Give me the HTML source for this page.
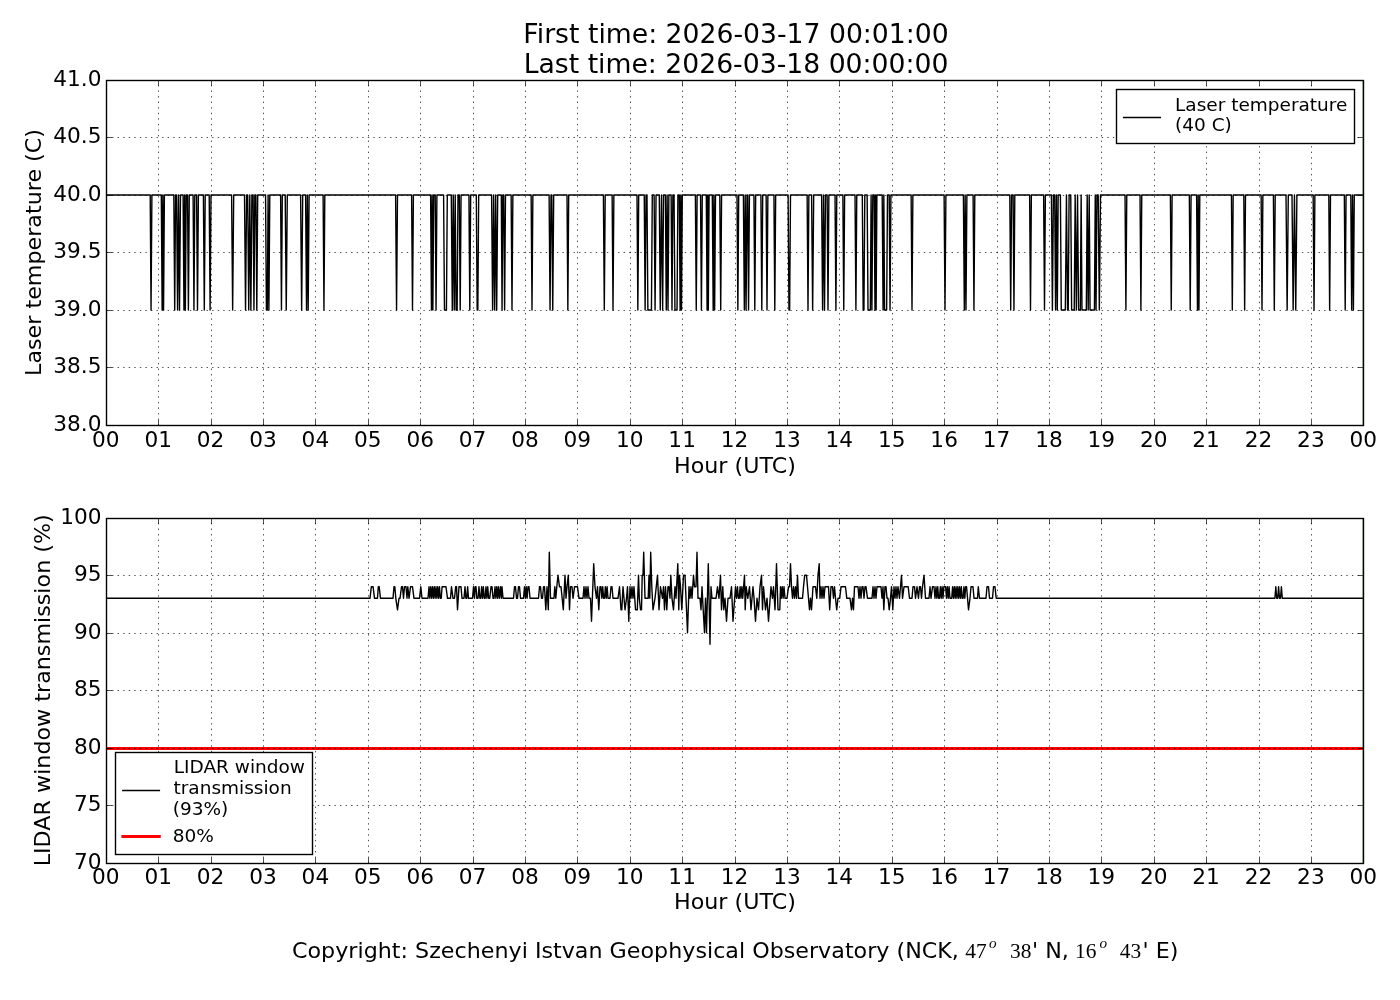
<!DOCTYPE html>
<html lang="en"><head><meta charset="utf-8"><title>LIDAR housekeeping</title><style>html,body{margin:0;padding:0;background:#fff;width:1400px;height:1000px;overflow:hidden}</style></head><body>
<svg width="1400" height="1000" viewBox="0 0 1400 1000" style="display:block" font-family="'DejaVu Sans','Liberation Sans',sans-serif" fill="#000">
<rect width="1400" height="1000" fill="#fff"/>
<g>
<polyline points="106.77,195.00 150.20,195.00 151.05,310.00 151.90,195.00 161.30,195.00 162.15,310.00 162.85,195.00 163.55,310.00 164.40,195.00 173.83,195.00 174.70,310.00 175.57,195.00 176.60,195.00 177.58,310.00 178.55,195.00 179.52,310.00 180.50,195.00 183.10,195.00 183.95,310.00 184.65,195.00 185.35,310.00 186.20,195.00 187.53,195.00 188.40,310.00 189.27,195.00 193.10,195.00 193.95,310.00 194.80,195.00 196.60,195.00 197.50,310.00 198.40,195.00 203.40,195.00 204.30,310.00 205.20,195.00 209.20,195.00 210.10,310.00 211.00,195.00 231.60,195.00 232.65,310.00 233.70,195.00 244.50,195.00 245.55,310.00 246.60,195.00 247.70,195.00 248.73,310.00 249.80,195.00 250.87,310.00 251.90,195.00 253.10,195.00 253.95,310.00 254.80,195.00 255.90,195.00 256.80,310.00 257.70,195.00 265.55,195.00 266.42,310.00 267.33,310.00 268.10,195.00 268.90,310.00 269.80,195.00 280.60,195.00 281.45,310.00 282.30,195.00 285.20,195.00 286.25,310.00 287.30,195.00 300.60,195.00 301.65,310.00 302.70,195.00 305.60,195.00 306.52,310.00 307.35,195.00 308.18,310.00 309.10,195.00 323.10,195.00 323.95,310.00 324.80,195.00 395.60,195.00 396.55,310.00 397.50,195.00 411.60,195.00 412.50,310.00 413.40,195.00 430.60,195.00 431.45,310.00 432.15,195.00 432.85,310.00 433.70,195.00 435.20,195.00 436.05,310.00 436.90,195.00 443.60,195.00 444.47,310.00 446.43,310.00 447.30,195.00 451.30,195.00 452.29,310.00 453.26,195.00 454.24,310.00 455.21,195.00 456.07,310.00 457.13,310.00 458.00,195.00 459.33,195.00 460.20,310.00 461.07,195.00 468.93,195.00 469.80,310.00 470.67,195.00 476.30,195.00 477.17,310.00 477.83,310.00 478.70,195.00 491.60,195.00 492.61,310.00 493.63,195.00 494.65,310.00 495.67,195.00 496.69,310.00 497.70,195.00 501.30,195.00 502.05,310.00 502.80,195.00 503.70,195.00 504.60,310.00 505.50,195.00 511.13,195.00 512.00,310.00 512.87,195.00 531.13,195.00 532.00,310.00 532.87,195.00 549.10,195.00 550.05,310.00 551.00,195.00 551.80,195.00 552.75,310.00 553.70,195.00 567.00,195.00 567.85,310.00 568.70,195.00 603.40,195.00 604.30,310.00 605.20,195.00 612.13,195.00 613.00,310.00 613.87,195.00 637.00,195.00 637.85,310.00 638.70,195.00 644.25,195.00 645.12,310.00 646.00,195.00 647.00,195.00 647.87,310.00 651.43,310.00 652.30,195.00 654.10,195.00 655.08,310.00 656.05,195.00 659.30,195.00 660.25,310.00 661.49,195.00 662.65,310.00 663.52,195.00 665.40,195.00 666.26,310.00 667.13,195.00 668.00,310.00 668.87,195.00 671.13,195.00 672.00,310.00 672.87,195.00 674.05,195.00 674.92,310.00 677.03,310.00 677.90,195.00 679.30,195.00 680.13,310.00 680.80,195.00 681.47,310.00 682.30,195.00 695.38,195.00 696.25,310.00 697.12,195.00 700.53,195.00 701.40,310.00 702.27,195.00 706.30,195.00 707.10,310.00 707.70,195.00 708.30,310.00 709.10,195.00 712.30,195.00 713.17,310.00 713.90,195.00 714.63,310.00 715.50,195.00 719.80,195.00 720.70,310.00 721.60,195.00 737.00,195.00 737.85,310.00 738.70,195.00 743.40,195.00 744.33,310.00 745.20,195.00 746.07,310.00 747.00,195.00 747.68,195.00 748.55,310.00 749.42,195.00 753.93,195.00 754.80,310.00 755.67,195.00 760.90,195.00 761.80,310.00 762.70,195.00 766.13,195.00 767.00,310.00 767.87,195.00 773.93,195.00 774.80,310.00 775.67,195.00 788.10,195.00 788.97,310.00 789.63,310.00 790.50,195.00 807.13,195.00 808.00,310.00 808.87,195.00 811.60,195.00 812.65,310.00 813.70,195.00 821.60,195.00 822.58,310.00 823.55,195.00 824.52,310.00 825.50,195.00 827.13,195.00 828.00,310.00 828.87,195.00 835.03,195.00 835.90,310.00 836.77,195.00 842.88,195.00 843.75,310.00 844.62,195.00 855.03,195.00 855.90,310.00 856.77,195.00 862.30,195.00 863.17,310.00 863.93,310.00 864.80,195.00 867.15,195.00 868.02,310.00 870.33,310.00 871.10,195.00 871.90,310.00 872.80,195.00 874.20,195.00 874.98,310.00 875.55,195.00 876.12,310.00 876.90,195.00 882.20,195.00 883.08,310.00 883.83,195.00 884.57,310.00 886.63,310.00 887.50,195.00 889.20,195.00 890.05,310.00 890.90,195.00 911.13,195.00 912.00,310.00 912.87,195.00 944.10,195.00 945.00,310.00 945.90,195.00 963.40,195.00 964.32,310.00 965.15,195.00 965.98,310.00 966.90,195.00 973.10,195.00 973.95,310.00 974.80,195.00 1009.80,195.00 1010.70,310.00 1011.60,195.00 1013.10,195.00 1013.95,310.00 1014.80,195.00 1029.63,195.00 1030.50,310.00 1031.37,195.00 1043.63,195.00 1044.50,310.00 1045.37,195.00 1051.40,195.00 1052.40,310.00 1053.40,195.00 1054.70,195.00 1055.57,310.00 1056.43,195.00 1057.31,310.00 1058.17,195.00 1060.40,195.00 1061.27,310.00 1065.33,310.00 1066.45,195.00 1067.57,310.00 1068.23,310.00 1069.10,195.00 1070.75,195.00 1071.62,310.00 1074.23,310.00 1075.17,195.00 1076.33,310.00 1077.55,195.00 1078.57,310.00 1080.33,310.00 1081.15,195.00 1081.97,310.00 1086.33,310.00 1087.20,195.00 1088.20,310.00 1089.20,195.00 1090.07,310.00 1094.43,310.00 1095.25,195.00 1096.05,310.00 1096.90,195.00 1098.20,195.00 1099.35,310.00 1100.50,195.00 1125.03,195.00 1125.90,310.00 1126.77,195.00 1140.03,195.00 1140.90,310.00 1141.77,195.00 1170.38,195.00 1171.25,310.00 1172.12,195.00 1189.33,195.00 1190.20,310.00 1191.07,195.00 1196.60,195.00 1197.47,310.00 1198.20,195.00 1198.93,310.00 1199.80,195.00 1231.43,195.00 1232.30,310.00 1233.17,195.00 1243.80,195.00 1244.65,310.00 1245.50,195.00 1261.13,195.00 1262.00,310.00 1262.87,195.00 1273.40,195.00 1274.30,310.00 1275.20,195.00 1286.00,195.00 1287.15,310.00 1288.30,195.00 1292.00,195.00 1293.15,310.00 1294.45,195.00 1295.75,310.00 1296.90,195.00 1313.15,195.00 1314.02,310.00 1314.88,195.00 1328.80,195.00 1329.65,310.00 1330.50,195.00 1344.33,195.00 1345.20,310.00 1346.07,195.00 1350.80,195.00 1351.66,310.00 1352.53,195.00 1353.40,310.00 1354.27,195.00 1363.40,195.00" fill="none" stroke="#000" stroke-width="1.39" stroke-linejoin="round"/>
<path d="M158.5 425.5V80.5M211.5 425.5V80.5M263.5 425.5V80.5M315.5 425.5V80.5M368.5 425.5V80.5M420.5 425.5V80.5M473.5 425.5V80.5M525.5 425.5V80.5M577.5 425.5V80.5M630.5 425.5V80.5M682.5 425.5V80.5M735.5 425.5V80.5M787.5 425.5V80.5M839.5 425.5V80.5M892.5 425.5V80.5M944.5 425.5V80.5M997.5 425.5V80.5M1049.5 425.5V80.5M1101.5 425.5V80.5M1154.5 425.5V80.5M1206.5 425.5V80.5M1259.5 425.5V80.5M1311.5 425.5V80.5" stroke="#000" stroke-width="0.69" stroke-dasharray="1.39 4.17" fill="none"/>
<path d="M106.5 367.5H1363.5M106.5 310.5H1363.5M106.5 252.5H1363.5M106.5 195.5H1363.5M106.5 137.5H1363.5" stroke="#000" stroke-width="0.69" stroke-dasharray="1.39 4.17" fill="none"/>
<path d="M158.5 425.5v-5.56M158.5 80.5v5.56M211.5 425.5v-5.56M211.5 80.5v5.56M263.5 425.5v-5.56M263.5 80.5v5.56M315.5 425.5v-5.56M315.5 80.5v5.56M368.5 425.5v-5.56M368.5 80.5v5.56M420.5 425.5v-5.56M420.5 80.5v5.56M473.5 425.5v-5.56M473.5 80.5v5.56M525.5 425.5v-5.56M525.5 80.5v5.56M577.5 425.5v-5.56M577.5 80.5v5.56M630.5 425.5v-5.56M630.5 80.5v5.56M682.5 425.5v-5.56M682.5 80.5v5.56M735.5 425.5v-5.56M735.5 80.5v5.56M787.5 425.5v-5.56M787.5 80.5v5.56M839.5 425.5v-5.56M839.5 80.5v5.56M892.5 425.5v-5.56M892.5 80.5v5.56M944.5 425.5v-5.56M944.5 80.5v5.56M997.5 425.5v-5.56M997.5 80.5v5.56M1049.5 425.5v-5.56M1049.5 80.5v5.56M1101.5 425.5v-5.56M1101.5 80.5v5.56M1154.5 425.5v-5.56M1154.5 80.5v5.56M1206.5 425.5v-5.56M1206.5 80.5v5.56M1259.5 425.5v-5.56M1259.5 80.5v5.56M1311.5 425.5v-5.56M1311.5 80.5v5.56M106.5 367.5h5.56M1363.5 367.5h-5.56M106.5 310.5h5.56M1363.5 310.5h-5.56M106.5 252.5h5.56M1363.5 252.5h-5.56M106.5 195.5h5.56M1363.5 195.5h-5.56M106.5 137.5h5.56M1363.5 137.5h-5.56" stroke="#000" stroke-width="0.69" fill="none"/>
<path d="M1363.05 80.5V425.5" stroke="#008000" stroke-width="0.7"/>
<rect x="106.5" y="80.5" width="1257.0" height="345.0" fill="none" stroke="#000" stroke-width="1.39"/>
<rect x="1116.5" y="89.5" width="238" height="54" fill="#fff" stroke="#000" stroke-width="1.39"/><path d="M1123.7 117.5H1160.3" stroke="#000" stroke-width="1.39" stroke-linecap="square"/><text transform="translate(1175.00 111.00) scale(1 0.935)" font-size="18.52" text-anchor="start">Laser temperature</text><text transform="translate(1175.00 131.30) scale(1 0.935)" font-size="18.52" text-anchor="start">(40 C)</text>
<text transform="translate(105.80 446.50) scale(0.975 0.935)" font-size="22.22" text-anchor="middle">00</text>
<text transform="translate(158.20 446.50) scale(0.975 0.935)" font-size="22.22" text-anchor="middle">01</text>
<text transform="translate(210.59 446.50) scale(0.975 0.935)" font-size="22.22" text-anchor="middle">02</text>
<text transform="translate(262.99 446.50) scale(0.975 0.935)" font-size="22.22" text-anchor="middle">03</text>
<text transform="translate(315.38 446.50) scale(0.975 0.935)" font-size="22.22" text-anchor="middle">04</text>
<text transform="translate(367.78 446.50) scale(0.975 0.935)" font-size="22.22" text-anchor="middle">05</text>
<text transform="translate(420.17 446.50) scale(0.975 0.935)" font-size="22.22" text-anchor="middle">06</text>
<text transform="translate(472.57 446.50) scale(0.975 0.935)" font-size="22.22" text-anchor="middle">07</text>
<text transform="translate(524.97 446.50) scale(0.975 0.935)" font-size="22.22" text-anchor="middle">08</text>
<text transform="translate(577.36 446.50) scale(0.975 0.935)" font-size="22.22" text-anchor="middle">09</text>
<text transform="translate(629.76 446.50) scale(0.975 0.935)" font-size="22.22" text-anchor="middle">10</text>
<text transform="translate(682.15 446.50) scale(0.975 0.935)" font-size="22.22" text-anchor="middle">11</text>
<text transform="translate(734.55 446.50) scale(0.975 0.935)" font-size="22.22" text-anchor="middle">12</text>
<text transform="translate(786.95 446.50) scale(0.975 0.935)" font-size="22.22" text-anchor="middle">13</text>
<text transform="translate(839.34 446.50) scale(0.975 0.935)" font-size="22.22" text-anchor="middle">14</text>
<text transform="translate(891.74 446.50) scale(0.975 0.935)" font-size="22.22" text-anchor="middle">15</text>
<text transform="translate(944.13 446.50) scale(0.975 0.935)" font-size="22.22" text-anchor="middle">16</text>
<text transform="translate(996.53 446.50) scale(0.975 0.935)" font-size="22.22" text-anchor="middle">17</text>
<text transform="translate(1048.93 446.50) scale(0.975 0.935)" font-size="22.22" text-anchor="middle">18</text>
<text transform="translate(1101.32 446.50) scale(0.975 0.935)" font-size="22.22" text-anchor="middle">19</text>
<text transform="translate(1153.72 446.50) scale(0.975 0.935)" font-size="22.22" text-anchor="middle">20</text>
<text transform="translate(1206.11 446.50) scale(0.975 0.935)" font-size="22.22" text-anchor="middle">21</text>
<text transform="translate(1258.51 446.50) scale(0.975 0.935)" font-size="22.22" text-anchor="middle">22</text>
<text transform="translate(1310.90 446.50) scale(0.975 0.935)" font-size="22.22" text-anchor="middle">23</text>
<text transform="translate(1363.30 446.50) scale(0.975 0.935)" font-size="22.22" text-anchor="middle">00</text>
<text transform="translate(101.50 430.80) scale(0.975 0.935)" font-size="22.22" text-anchor="end">38.0</text>
<text transform="translate(101.50 373.30) scale(0.975 0.935)" font-size="22.22" text-anchor="end">38.5</text>
<text transform="translate(101.50 315.80) scale(0.975 0.935)" font-size="22.22" text-anchor="end">39.0</text>
<text transform="translate(101.50 258.30) scale(0.975 0.935)" font-size="22.22" text-anchor="end">39.5</text>
<text transform="translate(101.50 200.80) scale(0.975 0.935)" font-size="22.22" text-anchor="end">40.0</text>
<text transform="translate(101.50 143.30) scale(0.975 0.935)" font-size="22.22" text-anchor="end">40.5</text>
<text transform="translate(101.50 85.80) scale(0.975 0.935)" font-size="22.22" text-anchor="end">41.0</text>
<text transform="translate(734.95 472.90) scale(1 0.935)" font-size="22.22" text-anchor="middle">Hour (UTC)</text>
<text transform="translate(41.20 252.50) rotate(-90) scale(1 0.935)" font-size="22.22" text-anchor="middle">Laser temperature (C)</text>
</g>
<g>
<polyline points="106.77,598.30 370.00,598.30 371.30,586.80 373.10,586.80 374.50,598.30 377.50,598.30 378.30,586.80 379.20,586.80 380.50,598.30 393.00,598.30 394.00,586.80 394.80,586.80 395.80,598.30 397.50,609.80 399.00,598.30 400.00,598.30 401.50,586.80 402.50,586.80 403.50,598.30 404.50,586.80 406.00,586.80 407.00,598.30 407.80,586.80 409.00,598.30 410.50,586.80 412.50,586.80 414.00,598.30 419.50,598.30 420.80,586.80 422.00,598.30 428.00,598.30 429.00,586.80 429.87,598.30 430.75,586.80 431.62,598.30 432.49,586.80 433.37,598.30 434.24,586.80 435.11,598.30 435.99,586.80 436.86,598.30 437.73,586.80 438.61,598.30 439.48,586.80 440.35,598.30 441.23,598.30 442.10,586.80 443.00,586.80 446.00,586.80 447.50,598.30 450.50,598.30 451.50,586.80 453.00,598.30 454.50,598.30 455.70,586.80 456.50,586.80 457.50,609.80 459.00,586.80 461.00,586.80 462.00,598.30 464.00,598.30 465.00,586.80 465.87,598.30 466.75,598.30 467.62,586.80 468.49,598.30 469.00,598.30 472.50,598.30 473.50,586.80 474.50,598.30 475.20,586.80 476.00,586.80 476.80,598.30 478.00,598.30 479.00,586.80 479.87,598.30 480.75,598.30 481.62,586.80 482.49,598.30 483.37,586.80 484.24,598.30 485.11,598.30 485.99,586.80 486.86,598.30 487.73,586.80 488.61,598.30 489.70,598.30 491.00,586.80 492.00,586.80 493.00,598.30 494.00,598.30 495.00,586.80 495.87,598.30 496.75,586.80 497.62,598.30 498.49,586.80 499.37,598.30 500.50,586.80 501.30,598.30 502.00,586.80 503.00,598.30 513.50,598.30 514.50,586.80 515.50,586.80 516.50,598.30 517.50,598.30 518.50,586.80 519.50,586.80 520.50,598.30 523.50,598.30 524.50,586.80 525.40,598.30 526.20,586.80 527.10,598.30 528.00,586.80 529.00,586.80 530.00,598.30 538.50,598.30 539.50,586.80 540.50,586.80 541.50,598.30 542.50,598.30 543.50,586.80 544.50,586.80 545.80,609.80 547.00,586.80 548.30,609.80 549.30,552.30 550.50,598.30 554.00,598.30 554.80,586.80 555.80,598.30 556.80,586.80 558.00,575.30 559.50,586.80 561.00,586.80 563.30,609.80 565.00,575.30 566.00,598.30 567.00,586.80 568.30,575.30 569.50,609.80 570.50,586.80 572.00,586.80 573.00,598.30 574.50,586.80 576.00,586.80 577.50,586.80 579.00,598.30 583.00,598.30 584.00,586.80 585.00,598.30 586.00,586.80 587.00,598.30 588.00,586.80 589.00,598.30 590.50,598.30 591.50,621.30 593.70,563.80 595.00,586.80 596.50,598.30 597.50,586.80 598.80,609.80 600.00,586.80 601.00,586.80 601.87,598.30 602.75,586.80 603.62,598.30 604.49,598.30 605.37,586.80 606.24,598.30 607.11,586.80 607.99,598.30 608.86,598.30 610.00,598.30 611.00,586.80 612.00,586.80 613.00,598.30 618.00,598.30 619.50,586.80 621.00,609.80 621.80,609.80 623.00,586.80 625.00,609.80 626.50,598.30 627.50,586.80 628.80,621.30 630.00,586.80 631.00,598.30 632.00,586.80 633.00,598.30 634.00,586.80 635.50,609.80 637.30,609.80 638.50,575.30 639.30,598.30 640.50,609.80 641.50,609.80 642.20,575.30 643.00,575.30 643.70,552.30 645.00,598.30 648.20,598.30 649.00,575.30 649.80,598.30 650.70,552.30 651.80,586.80 653.00,609.80 655.00,598.30 657.50,575.30 659.00,609.80 660.50,586.80 662.50,598.30 663.50,586.80 664.50,609.80 665.50,586.80 666.80,609.80 668.00,586.80 669.00,586.80 670.00,598.30 670.80,575.30 672.00,598.30 673.50,609.80 675.00,586.80 676.00,598.30 677.80,563.80 678.80,609.80 679.50,575.30 680.50,586.80 681.80,609.80 683.50,575.30 685.00,575.30 687.50,632.80 689.00,586.80 690.00,598.30 691.00,586.80 692.00,598.30 693.50,575.30 694.50,586.80 696.00,586.80 697.00,552.30 698.00,598.30 700.00,598.30 701.00,609.80 702.00,586.80 703.20,609.80 704.50,632.80 705.50,598.30 706.50,632.80 708.30,563.80 710.00,644.30 711.00,586.80 712.00,598.30 716.00,598.30 717.50,586.80 719.00,598.30 720.50,575.30 721.50,609.80 722.80,586.80 723.80,609.80 725.00,598.30 726.50,621.30 728.00,598.30 730.00,598.30 731.50,586.80 733.00,621.30 735.50,586.80 736.50,598.30 737.50,586.80 738.37,598.30 739.25,598.30 740.12,586.80 740.99,598.30 741.87,586.80 742.74,598.30 743.61,586.80 744.50,575.30 745.20,609.80 746.20,586.80 747.80,598.30 749.50,586.80 751.00,609.80 753.00,586.80 754.00,598.30 755.50,621.30 757.00,598.30 758.50,609.80 760.00,586.80 761.50,575.30 762.50,609.80 763.50,586.80 765.50,609.80 767.00,598.30 768.50,621.30 771.00,586.80 772.50,598.30 773.50,586.80 775.00,609.80 776.50,563.80 778.00,609.80 779.80,609.80 780.50,586.80 781.30,598.30 782.20,586.80 783.10,598.30 784.00,586.80 785.00,598.30 787.00,598.30 788.50,586.80 789.50,586.80 790.50,563.80 791.50,586.80 792.50,598.30 793.50,586.80 794.50,598.30 795.50,586.80 796.50,598.30 797.50,575.30 798.50,598.30 802.50,598.30 803.50,586.80 804.70,575.30 806.50,575.30 807.50,586.80 808.50,598.30 809.50,609.80 810.50,598.30 811.50,609.80 813.00,586.80 815.50,586.80 816.80,598.30 818.00,575.30 819.20,563.80 820.00,598.30 821.00,586.80 822.00,598.30 823.00,586.80 824.00,598.30 825.00,586.80 828.50,586.80 829.70,609.80 831.00,586.80 832.50,586.80 833.50,598.30 834.50,586.80 835.50,598.30 836.70,609.80 838.00,598.30 839.70,598.30 841.00,586.80 845.50,586.80 846.80,598.30 850.00,598.30 851.50,609.80 852.50,598.30 853.50,609.80 854.50,586.80 858.00,586.80 859.00,598.30 860.00,586.80 861.00,598.30 862.00,586.80 863.00,586.80 864.00,598.30 865.00,586.80 866.00,586.80 867.50,598.30 872.00,598.30 873.00,586.80 874.00,598.30 875.00,586.80 876.00,598.30 877.00,586.80 881.00,586.80 882.00,598.30 883.00,586.80 883.80,609.80 885.00,586.80 886.00,586.80 887.00,598.30 888.00,598.30 889.20,609.80 890.50,598.30 891.50,586.80 892.80,609.80 894.00,586.80 895.00,598.30 896.00,586.80 897.00,598.30 898.00,586.80 899.50,598.30 900.50,586.80 901.50,575.30 902.50,598.30 904.00,586.80 908.20,586.80 909.50,598.30 912.00,598.30 913.00,586.80 914.50,586.80 915.50,598.30 917.00,586.80 918.50,598.30 919.50,586.80 920.50,586.80 921.50,598.30 922.50,586.80 924.00,575.30 925.50,598.30 929.00,598.30 930.00,586.80 931.00,598.30 932.50,586.80 934.00,586.80 935.00,598.30 936.00,586.80 936.87,598.30 937.75,586.80 938.62,598.30 939.49,598.30 940.37,586.80 941.24,598.30 942.11,586.80 942.99,598.30 943.86,586.80 944.73,586.80 945.61,586.80 946.48,598.30 947.35,586.80 948.23,598.30 949.10,586.80 949.97,598.30 950.85,598.30 951.72,598.30 952.59,586.80 953.47,598.30 954.34,586.80 955.21,598.30 956.09,586.80 956.96,598.30 957.83,586.80 958.70,598.30 959.58,586.80 960.45,598.30 961.32,586.80 962.20,598.30 963.07,598.30 963.94,586.80 964.82,598.30 965.69,586.80 966.56,586.80 968.50,609.80 970.00,598.30 971.00,586.80 973.00,586.80 974.00,598.30 977.50,598.30 978.30,586.80 979.50,598.30 986.00,598.30 987.00,586.80 988.50,586.80 989.50,598.30 992.50,598.30 993.50,586.80 995.00,586.80 996.20,598.30 1274.90,598.30 1275.80,586.80 1276.70,598.30 1277.70,598.30 1278.60,586.80 1279.50,598.30 1280.50,598.30 1281.40,586.80 1282.30,598.30 1363.40,598.30" fill="none" stroke="#000" stroke-width="1.39" stroke-linejoin="round"/><path d="M106.5 748.5H1363.5" stroke="#f00" stroke-width="2.78"/>
<path d="M158.5 863.5V518.5M211.5 863.5V518.5M263.5 863.5V518.5M315.5 863.5V518.5M368.5 863.5V518.5M420.5 863.5V518.5M473.5 863.5V518.5M525.5 863.5V518.5M577.5 863.5V518.5M630.5 863.5V518.5M682.5 863.5V518.5M735.5 863.5V518.5M787.5 863.5V518.5M839.5 863.5V518.5M892.5 863.5V518.5M944.5 863.5V518.5M997.5 863.5V518.5M1049.5 863.5V518.5M1101.5 863.5V518.5M1154.5 863.5V518.5M1206.5 863.5V518.5M1259.5 863.5V518.5M1311.5 863.5V518.5" stroke="#000" stroke-width="0.69" stroke-dasharray="1.39 4.17" fill="none"/>
<path d="M106.5 805.5H1363.5M106.5 748.5H1363.5M106.5 690.5H1363.5M106.5 633.5H1363.5M106.5 575.5H1363.5" stroke="#000" stroke-width="0.69" stroke-dasharray="1.39 4.17" fill="none"/>
<path d="M158.5 863.5v-5.56M158.5 518.5v5.56M211.5 863.5v-5.56M211.5 518.5v5.56M263.5 863.5v-5.56M263.5 518.5v5.56M315.5 863.5v-5.56M315.5 518.5v5.56M368.5 863.5v-5.56M368.5 518.5v5.56M420.5 863.5v-5.56M420.5 518.5v5.56M473.5 863.5v-5.56M473.5 518.5v5.56M525.5 863.5v-5.56M525.5 518.5v5.56M577.5 863.5v-5.56M577.5 518.5v5.56M630.5 863.5v-5.56M630.5 518.5v5.56M682.5 863.5v-5.56M682.5 518.5v5.56M735.5 863.5v-5.56M735.5 518.5v5.56M787.5 863.5v-5.56M787.5 518.5v5.56M839.5 863.5v-5.56M839.5 518.5v5.56M892.5 863.5v-5.56M892.5 518.5v5.56M944.5 863.5v-5.56M944.5 518.5v5.56M997.5 863.5v-5.56M997.5 518.5v5.56M1049.5 863.5v-5.56M1049.5 518.5v5.56M1101.5 863.5v-5.56M1101.5 518.5v5.56M1154.5 863.5v-5.56M1154.5 518.5v5.56M1206.5 863.5v-5.56M1206.5 518.5v5.56M1259.5 863.5v-5.56M1259.5 518.5v5.56M1311.5 863.5v-5.56M1311.5 518.5v5.56M106.5 805.5h5.56M1363.5 805.5h-5.56M106.5 748.5h5.56M1363.5 748.5h-5.56M106.5 690.5h5.56M1363.5 690.5h-5.56M106.5 633.5h5.56M1363.5 633.5h-5.56M106.5 575.5h5.56M1363.5 575.5h-5.56" stroke="#000" stroke-width="0.69" fill="none"/>
<path d="M1363.05 518.5V863.5" stroke="#008000" stroke-width="0.7"/>
<rect x="106.5" y="518.5" width="1257.0" height="345.0" fill="none" stroke="#000" stroke-width="1.39"/>
<rect x="115.5" y="752.5" width="197" height="102" fill="#fff" stroke="#000" stroke-width="1.39"/><path d="M122.8 790.5H159.4" stroke="#000" stroke-width="1.39" stroke-linecap="square"/><text transform="translate(173.70 772.70) scale(1 0.935)" font-size="18.52" text-anchor="start">LIDAR window</text><text transform="translate(173.50 794.00) scale(1 0.935)" font-size="18.52" text-anchor="start">transmission</text><text transform="translate(172.70 814.50) scale(1 0.935)" font-size="18.52" text-anchor="start">(93%)</text><path d="M122.8 836.5H159.4" stroke="#f00" stroke-width="2.78" stroke-linecap="square"/><text transform="translate(172.70 842.00) scale(1 0.935)" font-size="18.52" text-anchor="start">80%</text>
<text transform="translate(105.80 884.00) scale(0.975 0.935)" font-size="22.22" text-anchor="middle">00</text>
<text transform="translate(158.20 884.00) scale(0.975 0.935)" font-size="22.22" text-anchor="middle">01</text>
<text transform="translate(210.59 884.00) scale(0.975 0.935)" font-size="22.22" text-anchor="middle">02</text>
<text transform="translate(262.99 884.00) scale(0.975 0.935)" font-size="22.22" text-anchor="middle">03</text>
<text transform="translate(315.38 884.00) scale(0.975 0.935)" font-size="22.22" text-anchor="middle">04</text>
<text transform="translate(367.78 884.00) scale(0.975 0.935)" font-size="22.22" text-anchor="middle">05</text>
<text transform="translate(420.17 884.00) scale(0.975 0.935)" font-size="22.22" text-anchor="middle">06</text>
<text transform="translate(472.57 884.00) scale(0.975 0.935)" font-size="22.22" text-anchor="middle">07</text>
<text transform="translate(524.97 884.00) scale(0.975 0.935)" font-size="22.22" text-anchor="middle">08</text>
<text transform="translate(577.36 884.00) scale(0.975 0.935)" font-size="22.22" text-anchor="middle">09</text>
<text transform="translate(629.76 884.00) scale(0.975 0.935)" font-size="22.22" text-anchor="middle">10</text>
<text transform="translate(682.15 884.00) scale(0.975 0.935)" font-size="22.22" text-anchor="middle">11</text>
<text transform="translate(734.55 884.00) scale(0.975 0.935)" font-size="22.22" text-anchor="middle">12</text>
<text transform="translate(786.95 884.00) scale(0.975 0.935)" font-size="22.22" text-anchor="middle">13</text>
<text transform="translate(839.34 884.00) scale(0.975 0.935)" font-size="22.22" text-anchor="middle">14</text>
<text transform="translate(891.74 884.00) scale(0.975 0.935)" font-size="22.22" text-anchor="middle">15</text>
<text transform="translate(944.13 884.00) scale(0.975 0.935)" font-size="22.22" text-anchor="middle">16</text>
<text transform="translate(996.53 884.00) scale(0.975 0.935)" font-size="22.22" text-anchor="middle">17</text>
<text transform="translate(1048.93 884.00) scale(0.975 0.935)" font-size="22.22" text-anchor="middle">18</text>
<text transform="translate(1101.32 884.00) scale(0.975 0.935)" font-size="22.22" text-anchor="middle">19</text>
<text transform="translate(1153.72 884.00) scale(0.975 0.935)" font-size="22.22" text-anchor="middle">20</text>
<text transform="translate(1206.11 884.00) scale(0.975 0.935)" font-size="22.22" text-anchor="middle">21</text>
<text transform="translate(1258.51 884.00) scale(0.975 0.935)" font-size="22.22" text-anchor="middle">22</text>
<text transform="translate(1310.90 884.00) scale(0.975 0.935)" font-size="22.22" text-anchor="middle">23</text>
<text transform="translate(1363.30 884.00) scale(0.975 0.935)" font-size="22.22" text-anchor="middle">00</text>
<text transform="translate(101.50 868.60) scale(0.975 0.935)" font-size="22.22" text-anchor="end">70</text>
<text transform="translate(101.50 811.10) scale(0.975 0.935)" font-size="22.22" text-anchor="end">75</text>
<text transform="translate(101.50 753.60) scale(0.975 0.935)" font-size="22.22" text-anchor="end">80</text>
<text transform="translate(101.50 696.10) scale(0.975 0.935)" font-size="22.22" text-anchor="end">85</text>
<text transform="translate(101.50 638.60) scale(0.975 0.935)" font-size="22.22" text-anchor="end">90</text>
<text transform="translate(101.50 581.10) scale(0.975 0.935)" font-size="22.22" text-anchor="end">95</text>
<text transform="translate(101.50 523.60) scale(0.975 0.935)" font-size="22.22" text-anchor="end">100</text>
<text transform="translate(734.95 908.60) scale(1 0.935)" font-size="22.22" text-anchor="middle">Hour (UTC)</text>
<text transform="translate(50.40 690.30) rotate(-90) scale(1 0.935)" font-size="22.22" text-anchor="middle">LIDAR window transmission (%)</text>
</g>
<text transform="translate(736.00 43.30) scale(1 0.965)" font-size="26.67" text-anchor="middle">First time: 2026-03-17 00:01:00</text>
<text transform="translate(736.00 72.80) scale(1 0.965)" font-size="26.67" text-anchor="middle">Last time: 2026-03-18 00:00:00</text>
<text transform="translate(292.00 957.50) scale(1 0.935)" font-size="22.22" text-anchor="start">Copyright: Szechenyi Istvan Geophysical Observatory (NCK,</text>
<text transform="translate(965.30 957.50) scale(1 1)" font-size="21.4" text-anchor="start" font-family="'Liberation Serif','DejaVu Serif',serif">47</text>
<text transform="translate(989.00 948.30) scale(1 1)" font-size="15.2" text-anchor="start" font-family="'Liberation Serif','DejaVu Serif',serif" font-style="italic">o</text>
<text transform="translate(1010.00 957.50) scale(1 1)" font-size="21.4" text-anchor="start" font-family="'Liberation Serif','DejaVu Serif',serif">38</text>
<text transform="translate(1032.00 957.50) scale(1 0.935)" font-size="22.22" text-anchor="start">' N,</text>
<text transform="translate(1075.00 957.50) scale(1 1)" font-size="21.4" text-anchor="start" font-family="'Liberation Serif','DejaVu Serif',serif">16</text>
<text transform="translate(1099.50 948.30) scale(1 1)" font-size="15.2" text-anchor="start" font-family="'Liberation Serif','DejaVu Serif',serif" font-style="italic">o</text>
<text transform="translate(1119.80 957.50) scale(1 1)" font-size="21.4" text-anchor="start" font-family="'Liberation Serif','DejaVu Serif',serif">43</text>
<text transform="translate(1142.60 957.50) scale(1 0.935)" font-size="22.22" text-anchor="start">' E)</text>
</svg>
</body></html>
